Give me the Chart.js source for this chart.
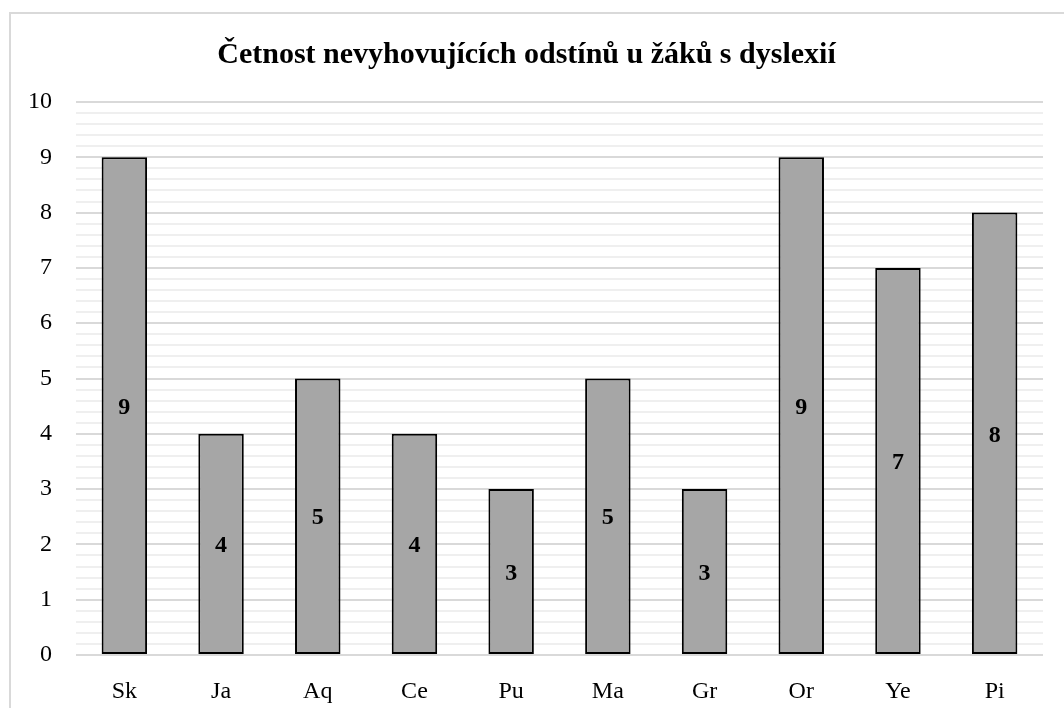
<!DOCTYPE html>
<html>
<head>
<meta charset="utf-8">
<script src="https://cdn.jsdelivr.net/npm/chart.js@4.4.0/dist/chart.umd.min.js"></script>
<style>
  html, body { margin: 0; padding: 0; background: #ffffff; }
  #wrap { width: 1064px; height: 708px; }
</style>
</head>
<body>
<div id="wrap"><canvas id="chart" width="1064" height="708"></canvas></div>
<script>
const categories = ['Sk', 'Ja', 'Aq', 'Ce', 'Pu', 'Ma', 'Gr', 'Or', 'Ye', 'Pi'];
const counts = [9, 4, 5, 4, 3, 5, 3, 9, 7, 8];
const yTicks = [0, 1, 2, 3, 4, 5, 6, 7, 8, 9, 10];

const serif = "'Liberation Serif', 'Times New Roman', serif";

// light frame around the whole chart, like the Excel chart area
const framePlugin = {
    id: 'frame',
    beforeDraw(chart) {
        const ctx = chart.ctx;
        ctx.save();
        ctx.strokeStyle = '#d9d9d9';
        ctx.lineWidth = 2;
        ctx.strokeRect(10, 13, chart.width + 20, chart.height + 20);
        ctx.restore();
    }
};

// value labels in the middle of each bar
const valueLabels = {
    id: 'valueLabels',
    afterDatasetsDraw(chart) {
        const ctx = chart.ctx;
        const meta = chart.getDatasetMeta(0);
        ctx.save();
        ctx.font = "bold 24px " + serif;
        ctx.fillStyle = '#000000';
        ctx.textAlign = 'center';
        ctx.textBaseline = 'middle';
        meta.data.forEach((bar, i) => {
            const mid = (bar.y + bar.base) / 2;
            ctx.fillText(String(counts[i]), bar.x, mid + 2);
        });
        ctx.restore();
    }
};

new Chart(document.getElementById('chart'), {
    type: 'bar',
    data: {
        labels: categories,
        datasets: [{
            data: counts,
            backgroundColor: '#a6a6a6',
            borderColor: '#000000',
            borderWidth: 2,
            borderSkipped: false,
            barPercentage: 0.94,
            categoryPercentage: 0.5
        }]
    },
    options: {
        responsive: false,
        animation: false,
        layout: { padding: { top: 35, left: 10, right: 21, bottom: 0 } },
        plugins: {
            legend: { display: false },
            tooltip: { enabled: false },
            title: {
                display: true,
                text: 'Četnost nevyhovujících odstínů u žáků s dyslexií',
                color: '#000000',
                font: { family: serif, size: 30, weight: 'bold' },
                padding: { top: 2, bottom: 29 }
            }
        },
        scales: {
            x: {
                grid: { display: false },
                border: { display: false },
                ticks: { color: '#000000', font: { family: serif, size: 24 }, padding: 14 },
                afterFit: s => { s.height = 53; }
            },
            y: {
                min: 0,
                max: 10,
                border: { display: false },
                grid: {
                    drawTicks: false,
                    lineWidth: 2,
                    color: c => (Number.isInteger(Math.round(c.tick.value * 1000) / 1000) ? '#d9d9d9' : '#efefef')
                },
                ticks: {
                    stepSize: 0.2,
                    autoSkip: false,
                    color: '#000000',
                    padding: 24,
                    font: { family: serif, size: 24 },
                    callback: v => {
                        const r = Math.round(v * 1000) / 1000;
                        return yTicks.includes(r) ? String(r) : '';
                    }
                },
                afterFit: s => { s.width = 66; }
            }
        }
    },
    plugins: [framePlugin, valueLabels]
});
</script>
</body>
</html>
